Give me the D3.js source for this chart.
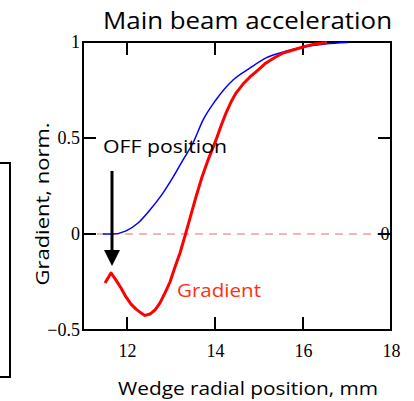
<!DOCTYPE html>
<html>
<head>
<meta charset="utf-8">
<script src="https://cdn.jsdelivr.net/npm/d3@7/dist/d3.min.js"></script>
<style>
  html, body { margin: 0; padding: 0; background: #fff; }
  svg { display: block; }
</style>
</head>
<body>
<svg id="chart" width="414" height="401"></svg>
<script>
// Wedge radial position (mm) and normalised gradient, OFF-wedge (blue) and gradient (red)
const blueX = [11.45, 11.68, 11.98, 12.25, 12.52, 12.82, 13.05, 13.27, 13.5, 13.73, 14.02, 14.41, 14.8, 15.16, 15.55, 16.0, 16.5, 17.02];
const blueY = [0.0, 0.0, 0.016, 0.057, 0.125, 0.214, 0.297, 0.385, 0.474, 0.594, 0.698, 0.802, 0.865, 0.917, 0.948, 0.974, 0.99, 0.997];

const redX = [11.5, 11.636, 11.75, 11.864, 11.977, 12.091, 12.205, 12.318, 12.409, 12.523, 12.636, 12.75, 12.864, 12.977, 13.091, 13.205, 13.318, 13.432, 13.568, 13.705, 13.841, 14.023, 14.136, 14.25, 14.364, 14.477, 14.636, 14.795, 14.977, 15.159, 15.341, 15.545, 15.773, 16.0, 16.273, 16.545];
const redY = [-0.255, -0.203, -0.24, -0.281, -0.328, -0.365, -0.391, -0.411, -0.424, -0.417, -0.396, -0.359, -0.307, -0.25, -0.172, -0.099, -0.01, 0.083, 0.193, 0.297, 0.385, 0.49, 0.5625, 0.63, 0.6875, 0.734, 0.781, 0.818, 0.854, 0.891, 0.917, 0.943, 0.958, 0.974, 0.99, 0.997];

const xTicks = [12, 14, 16, 18];
const yTicks = [-0.5, 0, 0.5, 1];
const yTickLabels = ["\u22120.5", "0", "0.5", "1"];

const svg = d3.select("#chart");
const plotLeft = 83, plotRight = 391, plotTop = 42, plotBottom = 330;
const tickLen = 13;

const x = d3.scaleLinear().domain([11, 18]).range([plotLeft, plotRight]);
const y = d3.scaleLinear().domain([-0.5, 1]).range([plotBottom, plotTop]);

const serif = "'Liberation Serif', 'Times New Roman', serif";
const hand = "'Open Sans', 'DejaVu Sans', sans-serif";

// left partial frame
svg.append("path")
  .attr("d", "M0,163 H10 V377 H0")
  .attr("fill", "none").attr("stroke", "#000").attr("stroke-width", 2);

// title
svg.append("text")
  .attr("x", 103).attr("y", 29)
  .attr("font-family", hand).attr("font-size", 23)
  .attr("textLength", 289).attr("lengthAdjust", "spacingAndGlyphs")
  .text("Main beam acceleration");

// zero reference line
svg.append("line")
  .attr("x1", x(11)).attr("x2", x(18))
  .attr("y1", y(0)).attr("y2", y(0))
  .attr("stroke", "#f06a6a").attr("stroke-width", 1.2)
  .attr("stroke-dasharray", "8,6");

// tick labels via d3 axes
function styleAxis(g) {
  g.select(".domain").remove();
  g.selectAll(".tick line").remove();
  g.selectAll(".tick text").attr("font-family", serif).attr("font-size", 18).attr("fill", "#000");
}

svg.append("g").attr("transform", `translate(0,${plotBottom})`)
  .call(d3.axisBottom(x).tickValues(xTicks).tickSize(0).tickPadding(14).tickFormat(d3.format("d")))
  .call(styleAxis);

svg.append("g").attr("transform", `translate(${plotLeft},0)`)
  .call(d3.axisLeft(y).tickValues(yTicks).tickSize(0).tickPadding(3)
    .tickFormat((d, i) => yTickLabels[i]))
  .call(styleAxis);

// plot frame
svg.append("rect")
  .attr("x", plotLeft).attr("y", plotTop)
  .attr("width", plotRight - plotLeft).attr("height", plotBottom - plotTop)
  .attr("fill", "none").attr("stroke", "#000").attr("stroke-width", 2);

// inward tick marks on all four sides
const tickPath = [];
xTicks.forEach(t => {
  tickPath.push(`M${x(t)},${plotBottom}V${plotBottom - tickLen}`);
  tickPath.push(`M${x(t)},${plotTop}V${plotTop + tickLen}`);
});
yTicks.forEach(t => {
  tickPath.push(`M${plotLeft},${y(t)}H${plotLeft + tickLen}`);
  tickPath.push(`M${plotRight},${y(t)}H${plotRight - tickLen}`);
});
svg.append("path")
  .attr("d", tickPath.join(""))
  .attr("fill", "none")
  .attr("stroke", "#000")
  .attr("stroke-width", 2);

// right-side zero label
svg.append("text")
  .attr("x", plotRight - 6).attr("y", y(0)).attr("dy", "0.35em")
  .attr("text-anchor", "middle")
  .attr("font-family", serif).attr("font-size", 18)
  .text("0");

// curves
const blue = blueX.map((v, i) => [v, blueY[i]]);
const red = redX.map((v, i) => [v, redY[i]]);

svg.append("path").datum(blue)
  .attr("d", d3.line().x(d => x(d[0])).y(d => y(d[1])).curve(d3.curveMonotoneX))
  .attr("fill", "none")
  .attr("stroke", "#0000ff").attr("stroke-width", 1.5);

svg.append("path").datum(red)
  .attr("d", d3.line().x(d => x(d[0])).y(d => y(d[1])))
  .attr("fill", "none")
  .attr("stroke", "#ff0000").attr("stroke-width", 3).attr("stroke-linejoin", "round");

// OFF position annotation
svg.append("text")
  .attr("x", 103).attr("y", 153)
  .attr("font-family", hand).attr("font-size", 19)
  .attr("textLength", 124).attr("lengthAdjust", "spacingAndGlyphs")
  .text("OFF position");

svg.append("line")
  .attr("x1", 112).attr("x2", 112).attr("y1", 171).attr("y2", 252)
  .attr("stroke", "#000").attr("stroke-width", 3);
svg.append("path")
  .attr("d", "M104,250 L120,250 L112,266 Z")
  .attr("fill", "#000");

// curve label
svg.append("text")
  .attr("x", 177).attr("y", 297)
  .attr("font-family", hand).attr("font-size", 18)
  .attr("fill", "#ff3010")
  .attr("textLength", 84).attr("lengthAdjust", "spacingAndGlyphs")
  .text("Gradient");

// axis titles
svg.append("text")
  .attr("transform", "translate(49,204) rotate(-90)")
  .attr("text-anchor", "middle")
  .attr("font-family", hand).attr("font-size", 18)
  .attr("textLength", 163).attr("lengthAdjust", "spacingAndGlyphs")
  .text("Gradient, norm.");

svg.append("text")
  .attr("x", 248).attr("y", 395)
  .attr("text-anchor", "middle")
  .attr("font-family", hand).attr("font-size", 19)
  .attr("textLength", 260).attr("lengthAdjust", "spacingAndGlyphs")
  .text("Wedge radial position, mm");
</script>
</body>
</html>
